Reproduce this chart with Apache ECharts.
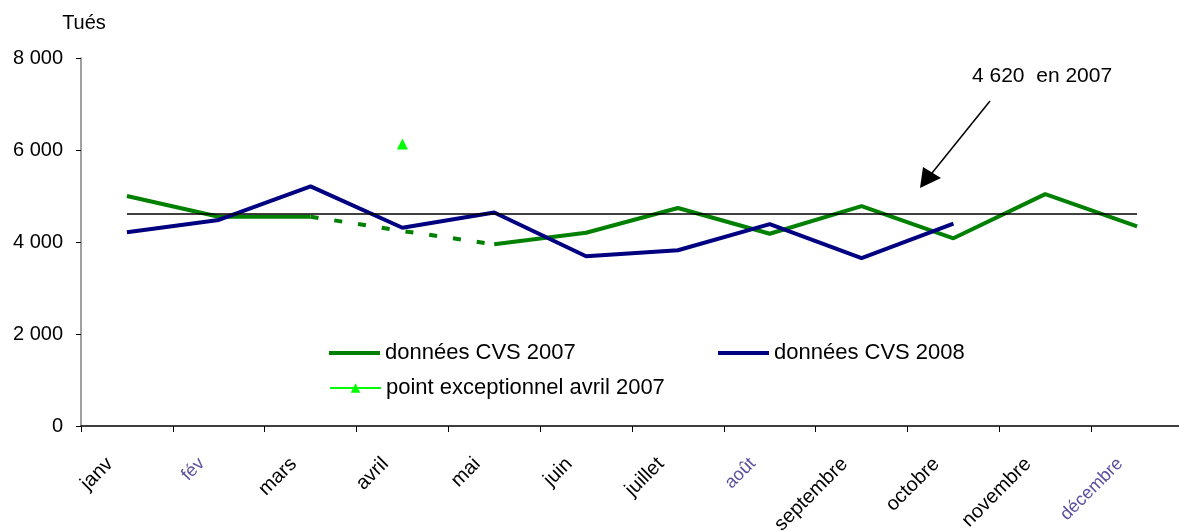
<!DOCTYPE html>
<html>
<head>
<meta charset="utf-8">
<script src="https://cdn.jsdelivr.net/npm/echarts@6/dist/echarts.min.js"></script>
<style>
  html, body { margin: 0; padding: 0; background: #fff; }
  #chart { width: 1179px; height: 531px; }
</style>
</head>
<body>
<div id="chart"></div>
<script>
const months = ['janv', 'fév', 'mars', 'avril', 'mai', 'juin', 'juillet', 'août', 'septembre', 'octobre', 'novembre', 'décembre'];
// labels that come out blurred/coloured in the original
const blurred = ['fév', 'août', 'décembre'];

// 2007, solid part (avril is drawn dashed separately)
const cvs2007 = [5000, 4550, 4550, '-', 3950, 4200, 4740, 4180, 4780, 4080, 5040, 4340];
const cvs2007Dashed = ['-', '-', 4550, 4240, 3950, '-', '-', '-', '-', '-', '-', '-'];
const cvs2008 = [4210, 4480, 5210, 4310, 4640, 3690, 3820, 4390, 3650, 4400, '-', '-'];
const exceptionnel = ['-', '-', '-', 6130, '-', '-', '-', '-', '-', '-', '-', '-'];
const moyenne2007 = 4620;

const yTicks = [0, 2000, 4000, 6000, 8000];

const fmtNum = v => String(v).replace(/\B(?=(\d{3})+(?!\d))/g, ' ');

const chart = echarts.init(document.getElementById('chart'));
const font = 'Liberation Sans, Arial, sans-serif';
const legendText = { fontSize: 22, color: '#000', fontFamily: font };

const option = {
    animation: false,
    textStyle: { fontFamily: font },
    grid: { left: 81, top: 58, bottom: 105, width: 1102, containLabel: false, outerBoundsMode: 'none' },
    legend: [
        {
            data: [{ name: 'données CVS 2007', icon: 'rect' }],
            left: 329, top: 342, padding: 0,
            itemWidth: 51, itemHeight: 4,
            textStyle: legendText
        },
        {
            data: [{ name: 'données CVS 2008', icon: 'rect' }],
            left: 718, top: 342, padding: 0,
            itemWidth: 51, itemHeight: 4,
            textStyle: legendText
        },
        {
            data: ['point exceptionnel avril 2007'],
            left: 329, top: 377, padding: 0,
            itemWidth: 51, itemHeight: 12,
            textStyle: legendText
        }
    ],
    xAxis: {
        type: 'category',
        data: months,
        boundaryGap: true,
        axisLine: { lineStyle: { color: '#000', width: 1.5 } },
        axisTick: { show: true, length: 6, lineStyle: { color: '#000' } },
        axisLabel: {
            rotate: 45,
            margin: 18,
            padding: [0, 24, 0, 0],
            fontSize: 20,
            color: '#000',
            fontFamily: font,
            formatter: v => blurred.includes(v) ? '{b|' + v + '}' : v,
            rich: { b: { fontSize: 18, color: '#5b4f9e', fontFamily: font } }
        }
    },
    yAxis: {
        type: 'value',
        min: yTicks[0],
        max: yTicks[yTicks.length - 1],
        interval: 2000,
        name: 'Tués',
        nameLocation: 'end',
        nameGap: 25,
        nameTextStyle: { fontSize: 20, color: '#000', align: 'center', padding: [0, 0, 0, 6], fontFamily: font },
        axisLine: { show: true, lineStyle: { color: '#808080', width: 1.5 } },
        axisTick: { show: true, length: 5, lineStyle: { color: '#000' } },
        splitLine: { show: false },
        axisLabel: { margin: 18, fontSize: 20, color: '#000', fontFamily: font, formatter: fmtNum }
    },
    series: [
        {
            name: 'données CVS 2007',
            type: 'line',
            data: cvs2007,
            symbol: 'none',
            lineStyle: { color: '#008000', width: 4 },
            itemStyle: { color: '#008000' },
            connectNulls: false,
            markLine: {
                silent: true,
                symbol: 'none',
                label: { show: false },
                lineStyle: { color: '#000', width: 1.5, type: 'solid' },
                data: [[{ coord: [0, moyenne2007] }, { coord: [months.length - 1, moyenne2007] }]]
            },
            z: 3
        },
        {
            name: 'données CVS 2007',
            type: 'line',
            data: cvs2007Dashed,
            symbol: 'none',
            lineStyle: { color: '#008000', width: 4, type: [8, 16] },
            itemStyle: { color: '#008000' },
            z: 3
        },
        {
            name: 'données CVS 2008',
            type: 'line',
            data: cvs2008,
            symbol: 'none',
            lineStyle: { color: '#000080', width: 4 },
            itemStyle: { color: '#000080' },
            z: 4
        },
        {
            name: 'point exceptionnel avril 2007',
            type: 'line',
            data: exceptionnel,
            symbol: 'triangle',
            symbolSize: 11,
            showSymbol: true,
            lineStyle: { color: '#00ff00', width: 1.5 },
            itemStyle: { color: '#00ff00' },
            z: 5
        }
    ],
    graphic: [
        {
            type: 'text',
            left: 972, top: 66,
            style: { text: '4 620  en 2007', fontSize: 21, fill: '#000', fontFamily: font }
        },
        {
            type: 'line',
            shape: { x1: 990, y1: 101, x2: 928, y2: 178 },
            style: { stroke: '#000', lineWidth: 1.5 }
        },
        {
            type: 'polygon',
            shape: { points: [[920, 188], [923, 167], [941, 178]] },
            style: { fill: '#000' }
        }
    ]
};

chart.setOption(option);
</script>
</body>
</html>
